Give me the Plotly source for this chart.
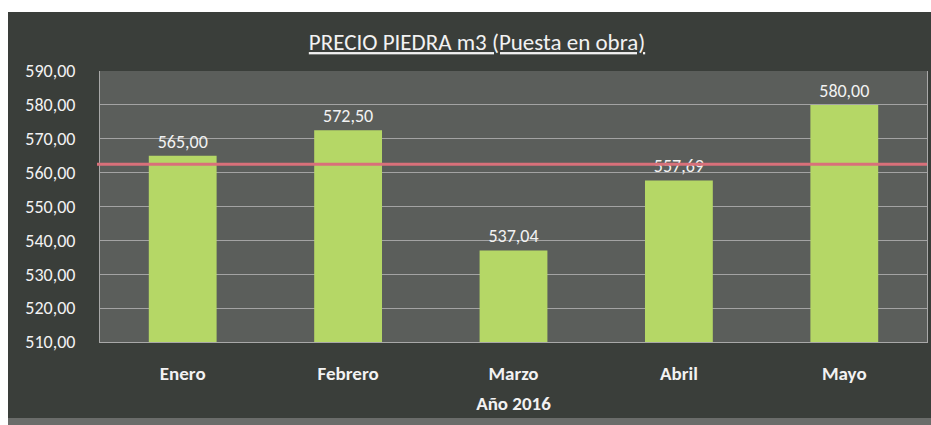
import plotly.graph_objects as go

months = ["Enero", "Febrero", "Marzo", "Abril", "Mayo"]
prices = [565.00, 572.50, 537.04, 557.69, 580.00]
title_text = "PRECIO PIEDRA m3 (Puesta en obra)"
x_title = "Año 2016"

avg = sum(prices) / len(prices)

FONT = "Carlito, 'Liberation Sans Narrow', 'Liberation Sans', sans-serif"
TXT = "#f2f2f2"

W, H = 931, 425
L, R, T, B = 100, 4, 71, 83
pw, ph = W - L - R, H - T - B

def px_x(p):
    return (p - L) / pw

def px_y(p):
    return (H - B - p) / ph

fig = go.Figure()
fig.add_trace(go.Bar(
    x=months, y=prices,
    marker=dict(color="#b5d766", line=dict(width=0)),
    width=0.41,
    texttemplate="%{y:.2f}", textposition="outside",
    textfont=dict(family=FONT, size=18, color=TXT),
    cliponaxis=False,
    hoverinfo="skip",
))

fig.update_layout(
    width=W, height=H,
    margin=dict(l=L, r=R, t=T, b=B),
    separators=",.",
    paper_bgcolor="white",
    plot_bgcolor="rgba(0,0,0,0)",
    showlegend=False,
    title=dict(text="<u>" + title_text + "</u>", x=477 / W, xanchor="center",
               y=1 - 42 / H, yanchor="middle",
               font=dict(family=FONT, size=23, color=TXT)),
    xaxis=dict(
        showgrid=False, showline=True, linecolor="#a8a8a8", linewidth=1,
        tickfont=dict(family=FONT, size=19, color=TXT, weight="bold"),
        ticklabelstandoff=14,
        title=dict(text=x_title, font=dict(family=FONT, size=19, color=TXT, weight="bold"),
                   standoff=12),
    ),
    yaxis=dict(
        range=[510, 590], dtick=10, tickformat=".2f",
        showgrid=True, gridcolor="#a3a3a3", gridwidth=1,
        showline=True, linecolor="#a8a8a8", mirror=True,
        zeroline=False,
        tickfont=dict(family=FONT, size=18, color=TXT),
        ticklabelstandoff=20,
    ),
    shapes=[
        dict(type="rect", xref="paper", yref="paper", layer="below",
             x0=px_x(8), x1=px_x(W), y0=px_y(418), y1=px_y(12),
             fillcolor="#3a3e3a", line=dict(width=0)),
        dict(type="rect", xref="paper", yref="paper", layer="below",
             x0=px_x(8), x1=px_x(W), y0=px_y(H), y1=px_y(418),
             fillcolor="#6a6c6a", line=dict(width=0)),
        dict(type="rect", xref="paper", yref="paper", layer="below",
             x0=0, x1=1, y0=0, y1=1,
             fillcolor="#5b5e5b", line=dict(width=0)),
        dict(type="line", xref="paper", yref="y", layer="above",
             x0=px_x(97), x1=1, y0=avg, y1=avg,
             line=dict(color="#d9707a", width=3)),
    ],
)

fig.write_html("out.html",
               config={"displayModeBar": False},
               post_script="document.body.style.margin='0';document.body.style.overflow='hidden';")
